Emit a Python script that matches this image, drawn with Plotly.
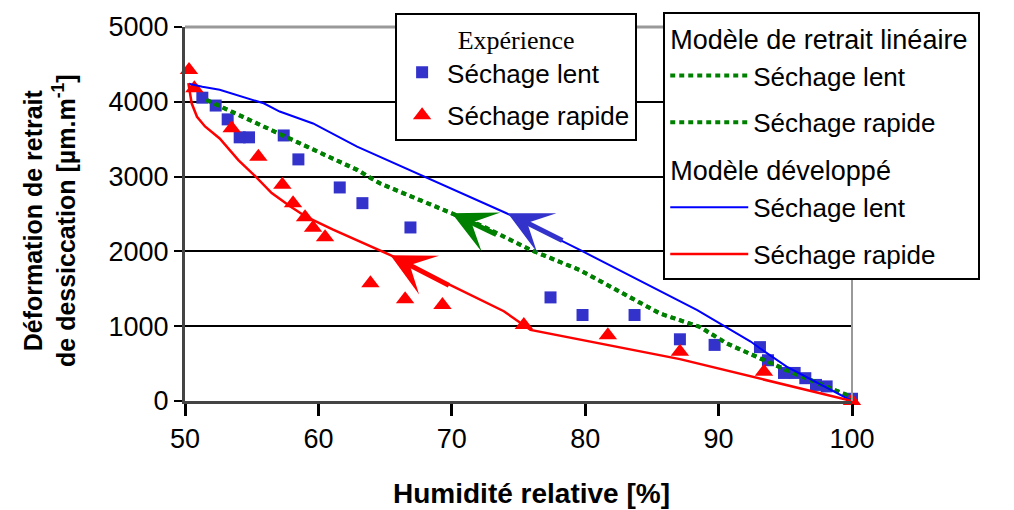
import plotly.graph_objects as go

# Experience - sechage lent (blue squares)
rh_exp_lent = [51.3, 52.3, 53.2, 54.1, 54.8, 57.4, 58.5, 61.6, 63.3, 66.9, 77.4, 79.8,
               83.7, 87.1, 89.7, 93.1, 93.7, 94.9, 95.7, 96.5, 97.3, 98.1, 100.0]
def_exp_lent = [4055, 3950, 3765, 3525, 3525, 3550, 3230, 2855, 2645, 2320, 1385, 1150,
                1150, 825, 750, 720, 545, 375, 375, 305, 215, 195, 30]

# Experience - sechage rapide (red triangles)
rh_exp_rapide = [50.3, 50.7, 53.5, 55.5, 57.3, 58.1, 59.0, 59.6, 60.5, 63.9, 66.5, 69.3,
                 75.4, 81.7, 87.1, 93.4, 100.0]
def_exp_rapide = [4425, 4180, 3645, 3265, 2890, 2645, 2455, 2315, 2190, 1575, 1360, 1285,
                  1015, 880, 660, 390, 0]

# Modele de retrait lineaire (green dotted, both curves lie on top of each other)
rh_lin_lent = [51.6, 57.4, 62.9, 64.6, 70.0, 72.4, 75.9, 79.6, 85.6, 88.6, 90.6, 95.0, 99.6, 100.0]
def_lin_lent = [4025, 3540, 3090, 2910, 2510, 2330, 2020, 1750, 1170, 990, 770, 420, 80, 0]
rh_lin_rapide = [51.6, 57.4, 62.9, 64.6, 70.0, 72.4, 75.9, 79.6, 85.6, 88.6, 90.6, 95.0, 99.6, 100.0]
def_lin_rapide = [4025, 3540, 3090, 2910, 2510, 2330, 2020, 1750, 1170, 990, 770, 420, 80, 0]

# Modele developpe (solid lines)
rh_dev_lent = [50.3, 51.3, 52.6, 55.9, 57.1, 59.6, 62.9, 68.5, 74.1, 79.6, 88.4, 92.4,
               93.1, 95.1, 100.0]
def_dev_lent = [4240, 4200, 4160, 3980, 3870, 3710, 3400, 2955, 2510, 2020, 1215, 795,
                705, 460, 0]
rh_dev_rapide = [50.25, 50.5, 50.9, 51.5, 52.6, 54.0, 55.3, 56.5, 57.9, 59.1, 61.1, 65.4,
                 69.1, 73.9, 75.9, 87.1, 100.0]
def_dev_rapide = [4250, 3980, 3800, 3670, 3510, 3220, 3000, 2780, 2600, 2460, 2290, 1950,
                  1620, 1200, 950, 560, 0]

# arrows: tip (rh, def) and tail offset in pixels
arrow_rh = [74.2, 70.0, 65.4]
arrow_def = [2510, 2510, 1950]
arrow_dx = [56, 46, 60]
arrow_dy = [28, 22, 31]
arrow_col = ['#3333CC', '#008000', '#FF0000']

FONT = 'Liberation Sans'

fig = go.Figure()

fig.add_trace(go.Scatter(x=rh_exp_lent, y=def_exp_lent, mode='markers', name='Séchage lent',
                         marker=dict(symbol='square', size=12, color='#3333CC'),
                         legend='legend', legendgroup='e1', cliponaxis=False))
fig.add_trace(go.Scatter(x=rh_exp_rapide, y=def_exp_rapide, mode='markers', name='Séchage rapide',
                         marker=dict(symbol='triangle-up', size=16, color='#FF0000'),
                         legend='legend', legendgroup='e2', cliponaxis=False))

fig.add_trace(go.Scatter(x=rh_lin_lent, y=def_lin_lent, mode='lines', name='Séchage lent',
                         line=dict(color='#008000', width=4, dash='5px,4px'),
                         legend='legend2', legendgroup='lin1',
                         legendgrouptitle=dict(text='Modèle de retrait linéaire')))
fig.add_trace(go.Scatter(x=rh_lin_rapide, y=def_lin_rapide, mode='lines', name='Séchage rapide',
                         line=dict(color='#008000', width=4, dash='5px,4px'),
                         legend='legend2', legendgroup='lin2'))
fig.add_trace(go.Scatter(x=rh_dev_lent, y=def_dev_lent, mode='lines', name='Séchage lent',
                         line=dict(color='#0000FF', width=2),
                         legend='legend2', legendgroup='dev1',
                         legendgrouptitle=dict(text='Modèle développé')))
fig.add_trace(go.Scatter(x=rh_dev_rapide, y=def_dev_rapide, mode='lines', name='Séchage rapide',
                         line=dict(color='#FF0000', width=2.5),
                         legend='legend2', legendgroup='dev2'))

for i in range(len(arrow_rh)):
    fig.add_annotation(x=arrow_rh[i], y=arrow_def[i], ax=arrow_dx[i], ay=arrow_dy[i],
                       text='', showarrow=True, arrowhead=3, arrowsize=1.45, arrowwidth=5,
                       arrowcolor=arrow_col[i], standoff=0)

# axis titles as annotations
fig.add_annotation(text='<b>Humidité relative [%]</b>', xref='paper', yref='paper',
                   x=0.52, y=-0.246, xanchor='center', yanchor='middle', showarrow=False,
                   font=dict(family=FONT, size=28))
fig.add_annotation(text='<b>Déformation de retrait<br>de dessiccation [µm.m<sup>-1</sup>]</b>',
                   xref='paper', yref='paper', x=-0.2024, y=0.484, textangle=-90,
                   xanchor='center', yanchor='middle', showarrow=False,
                   font=dict(family=FONT, size=25))

# grey frame on top and right
fig.add_shape(type='line', xref='paper', yref='paper', x0=0, x1=1, y0=1, y1=1,
              line=dict(color='#999999', width=3))
fig.add_shape(type='line', xref='paper', yref='paper', x0=1, x1=1, y0=0, y1=1,
              line=dict(color='#999999', width=2))

# the page body has an 8px margin, so the figure is 8px smaller than the window
fig.update_layout(
    width=1006, height=502,
    margin=dict(l=177, r=162, t=19, b=109, autoexpand=False),
    paper_bgcolor='white', plot_bgcolor='white',
    font=dict(family=FONT, size=26, color='black'),
    showlegend=True,
    legend=dict(x=0.315, y=1.037, xanchor='left', yanchor='top',
                bordercolor='black', borderwidth=2, bgcolor='white',
                font=dict(family=FONT, size=26), itemwidth=40, tracegroupgap=6,
                title=dict(text='Expérience', side='top center',
                           font=dict(family='Liberation Serif', size=26))),
    legend2=dict(x=0.717, y=1.04, xanchor='left', yanchor='top', maxheight=480,
                 bordercolor='black', borderwidth=2, bgcolor='white',
                 font=dict(family=FONT, size=26), itemwidth=78, tracegroupgap=10,
                 grouptitlefont=dict(family=FONT, size=27)),
    xaxis=dict(range=[50, 100], tickvals=[50, 60, 70, 80, 90, 100],
               ticks='outside', ticklen=12, tickwidth=3, tickcolor='black',
               showgrid=False, zeroline=False,
               showline=True, linecolor='#444444', linewidth=3,
               tickfont=dict(size=27)),
    yaxis=dict(range=[0, 5000], tickvals=[0, 1000, 2000, 3000, 4000, 5000],
               ticks='outside', ticklen=8, tickwidth=2, tickcolor='black',
               showgrid=True, gridcolor='black', gridwidth=2, zeroline=False,
               showline=True, linecolor='#444444', linewidth=3,
               tickfont=dict(size=27)),
)

fig.write_html("out.html")
